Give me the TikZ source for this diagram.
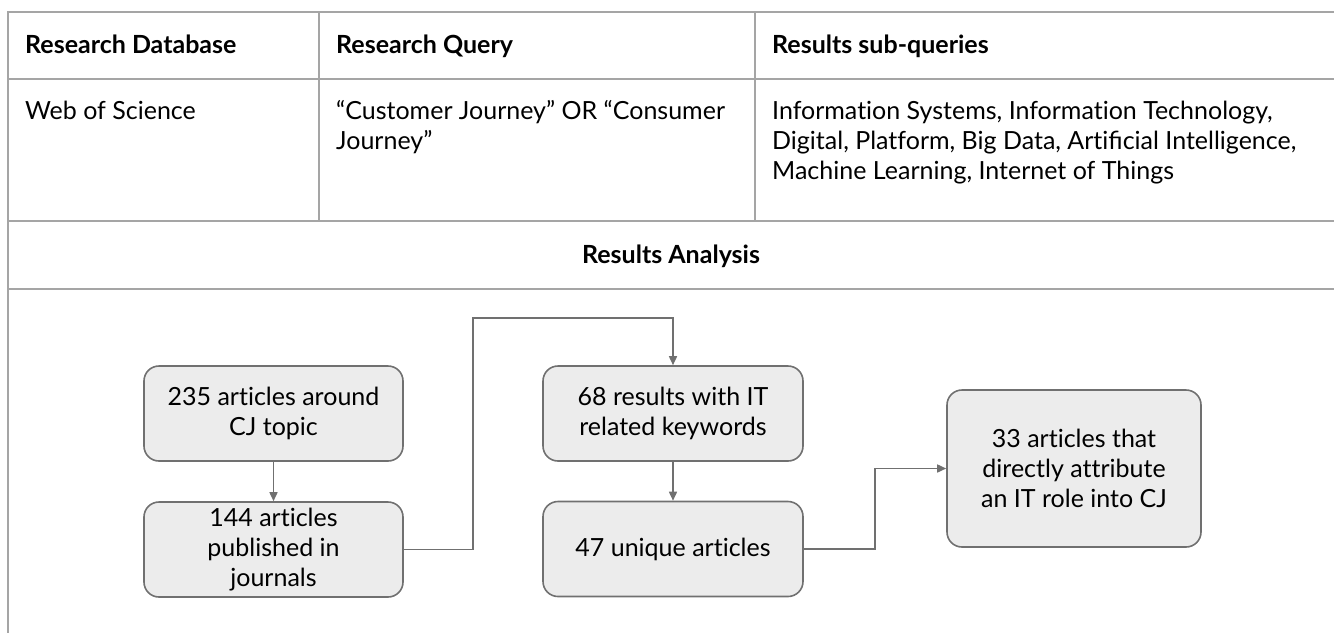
\documentclass[tikz,border=0pt]{standalone}
\usepackage{fontspec}
\setmainfont{Lato}[Ligatures=NoCommon]
\usetikzlibrary{arrows.meta,positioning,calc}
\definecolor{rulegray}{RGB}{165,165,165}
\definecolor{boxfill}{RGB}{236,236,236}
\definecolor{edgegray}{RGB}{112,112,112}
\newcommand{\tablefont}{\fontsize{25}{30}\selectfont}

\begin{document}
\begin{tikzpicture}[x=1pt,y=-1pt,
  tablerule/.style={draw=rulegray,line width=1.6pt},
  headtext/.style={font=\tablefont\bfseries,inner sep=0pt,anchor=base west},
  celltext/.style={font=\tablefont,inner sep=0pt,anchor=base west,align=left},
  stagebox/.style={draw=edgegray,fill=boxfill,line width=1.6pt,rounded corners=15pt,
    font=\tablefont,align=center,inner sep=0pt,minimum width=259pt,minimum height=95pt},
  flow/.style={draw=edgegray,line width=1.6pt,-{Triangle[length=9pt,width=8pt]}}]
\useasboundingbox (0,0) rectangle (1334,633);
% table frame
\draw[tablerule] (1334,12) -- (8,12) -- (8,633);
\draw[tablerule] (8,79) -- (1334,79);
\draw[tablerule] (8,221) -- (1334,221);
\draw[tablerule] (8,289) -- (1334,289);
\draw[tablerule] (319,12) -- (319,221);
\draw[tablerule] (755,12) -- (755,221);
% header row
\node[headtext] (hdb) at (25,53) {Research Database};
\node[headtext] (hquery) at (336,53) {Research Query};
\node[headtext] (hsub) at (772,53) {Results sub-queries};
% content row (base = last line)
\node[celltext] (cdb) at (25,119) {Web of Science};
\node[celltext] (cquery) at (336,149) {“Customer Journey” OR “Consumer\\Journey”};
\node[celltext] (csub) at (772,179) {Information Systems, Information Technology,\\Digital, Platform, Big Data, Artiﬁcial Intelligence,\\Machine Learning, Internet of Things};
\node[headtext,anchor=base] (hana) at (671,263) {Results Analysis};
% analysis flow
\node[stagebox] (topic) at (273.5,413.5) {235 articles around\\CJ topic};
\node[stagebox] (journals) at (273.5,549.5) {144 articles\\published in\\journals};
\node[stagebox,minimum width=260pt] (keywords) at (673,413.5) {68 results with IT\\related keywords};
\node[stagebox,minimum width=260pt] (unique) at (673,549) {47 unique articles};
\node[stagebox,minimum width=254pt,minimum height=157pt] (role) at (1074,468.5) {33 articles that\\directly attribute\\an IT role into CJ};
\coordinate (jumpup) at (473,318);
\draw[flow] (topic) -- (journals);
\draw[flow] (journals.east) -| (jumpup) -| (keywords.north);
\draw[flow] (keywords) -- (unique);
\draw[flow] (unique.east) -| ($(unique.east)!0.5!(role.west)$) |- (role.west);
\end{tikzpicture}
\end{document}
